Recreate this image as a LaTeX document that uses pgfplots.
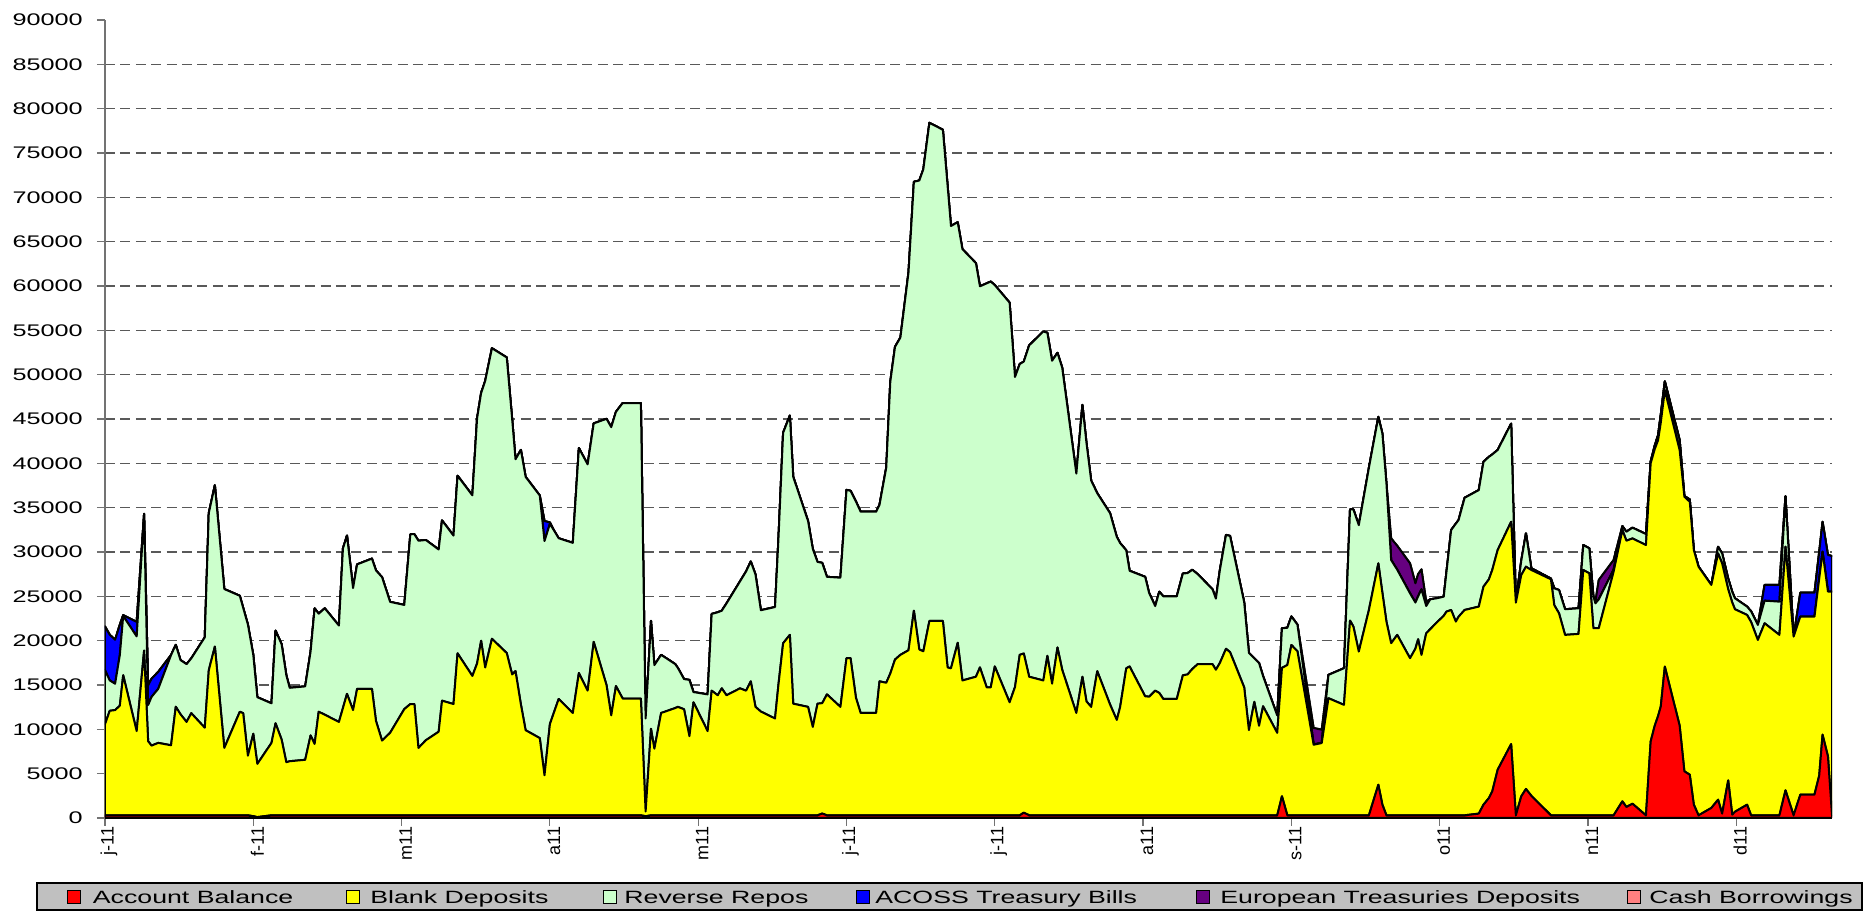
\documentclass[border=0pt]{standalone}
\usepackage{fontspec}
\setmainfont{Liberation Sans}
\usepackage{pgfplots}
\pgfplotsset{compat=1.18}
\usepackage{pgfplotstable}
\usetikzlibrary{calc}
\definecolor{accred}{RGB}{255,0,0}
\definecolor{blankyel}{RGB}{255,255,0}
\definecolor{rrgreen}{RGB}{204,255,204}
\definecolor{acossblue}{RGB}{0,0,255}
\definecolor{eurpurple}{RGB}{102,0,128}
\definecolor{cashpink}{RGB}{255,128,128}
\definecolor{legendgray}{RGB}{192,192,192}
\newcommand{\legfont}{\fontsize{8.9}{10}\selectfont}
\newcommand{\legtext}[1]{\scalebox{1.5}[1]{\legfont #1}}

\pgfplotstableread{
x acc blank rr acoss eur cash
0.0 300 10270 6100 4930 0 0
0.7 300 11790 3430 5150 0 0
1.5 300 11870 2970 4960 0 0
2.2 300 12360 5720 3420 0 0
2.7 300 15800 6680 100 0 0
4.7 300 9500 10680 1640 0 0
5.8 300 18580 15420 0 0 0
6.4 300 8360 4080 2210 0 0
6.9 300 7860 5490 2050 0 0
7.9 300 8170 6100 1910 0 0
9.8 300 7900 10180 0 0 0
10.5 300 12250 6980 0 0 0
11.2 300 11400 6110 0 0 0
12.1 300 10530 6520 0 0 0
12.8 300 11520 6180 0 0 0
14.8 300 9880 10190 0 0 0
15.4 300 16370 17730 0 0 0
16.3 300 19040 18190 0 0 0
17.7 300 7600 17920 0 0 0
20.0 300 11680 13080 0 0 0
20.5 300 11520 11880 0 0 0
21.2 300 6720 14800 0 0 0
22.0 200 9300 8880 0 0 0
22.6 100 6000 7520 0 0 0
24.7 300 8170 4460 0 0 0
25.3 300 10380 10450 0 0 0
26.2 300 8550 10750 0 0 0
26.9 300 5990 9810 0 0 0
27.4 300 6100 8280 0 0 0
29.7 300 6260 8280 0 0 0
30.5 300 9010 9460 0 0 0
31.1 300 8050 15300 0 0 0
31.7 300 11680 11060 0 0 0
32.6 300 11350 12000 0 0 0
34.7 300 10530 10870 0 0 0
35.3 300 12100 18000 0 0 0
35.9 300 13700 17850 0 0 0
36.8 300 11870 13760 0 0 0
37.4 300 14270 14030 0 0 0
39.6 300 14270 14680 0 0 0
40.2 300 10650 16970 0 0 0
41.1 300 8430 18430 0 0 0
42.3 300 9310 14760 0 0 0
44.4 300 11980 11750 0 0 0
45.3 300 12550 19150 0 0 0
45.9 300 12550 19150 0 0 0
46.5 300 7600 23370 0 0 0
47.6 300 8470 22580 0 0 0
49.5 300 9430 20550 0 0 0
50.0 300 12930 20330 0 0 0
51.7 300 12550 19000 0 0 0
52.3 300 18270 20030 0 0 0
54.5 300 15720 20370 0 0 0
55.2 300 17130 27650 0 0 0
55.8 300 19690 27950 0 0 0
56.4 300 16670 32310 0 0 0
57.4 300 19910 32770 0 0 0
59.6 300 18300 33340 0 0 0
60.4 300 15890 28810 0 0 0
60.9 300 16260 23900 0 0 0
61.7 300 12500 28710 0 0 0
62.4 300 9600 28570 0 0 0
64.5 300 8710 27360 0 0 0
65.2 300 4520 26420 2250 0 0
66.0 300 10290 22580 160 0 0
66.6 300 11600 20540 0 0 0
67.3 300 13120 18130 0 0 0
69.4 300 11540 19190 0 0 0
70.3 300 16050 25370 0 0 0
71.6 300 14060 25520 0 0 0
72.5 300 19560 24640 0 0 0
74.4 300 14690 30030 0 0 0
75.1 300 11280 32500 0 0 0
75.8 300 14580 30930 0 0 0
76.8 300 13170 33330 0 0 0
79.5 300 13170 33330 0 0 0
80.2 200 530 10490 0 0 0
81.0 300 9760 12160 0 0 0
81.5 300 7510 9430 0 0 0
82.5 300 11540 6560 0 0 0
84.6 300 12100 4950 0 0 0
85.0 300 12230 4370 0 0 0
85.9 300 11960 3410 0 0 0
86.7 300 8920 6350 0 0 0
87.3 300 12750 1150 0 0 0
89.4 300 9500 4140 0 0 0
90.0 300 14060 8650 0 0 0
90.9 300 13540 9360 0 0 0
91.5 300 14320 8760 0 0 0
92.2 300 13540 10360 0 0 0
94.2 300 14320 12060 0 0 0
95.1 300 14060 13440 0 0 0
95.8 300 15110 13520 0 0 0
96.5 300 12230 14930 0 0 0
97.3 300 11700 11430 0 0 0
99.4 300 10920 12570 0 0 0
99.9 300 14700 16390 0 0 0
100.6 300 19410 23740 0 0 0
101.6 300 20350 24740 0 0 0
102.1 300 12590 25580 0 0 0
104.3 300 12230 20960 0 0 0
105.0 300 9970 20080 0 0 0
105.7 300 12590 15990 0 0 0
106.4 500 12450 15820 0 0 0
107.1 300 13640 13260 0 0 0
109.1 300 12230 14570 0 0 0
110.0 300 17730 18970 0 0 0
110.6 300 17730 18870 0 0 0
111.4 300 13270 22130 0 0 0
112.1 300 11540 22700 0 0 0
114.4 300 11540 22700 0 0 0
114.9 300 15110 19910 0 0 0
115.9 300 14950 24270 0 0 0
116.5 300 16000 32910 0 0 0
117.2 300 17570 35270 0 0 0
118.0 300 18100 35790 0 0 0
119.2 300 18620 42610 0 0 0
120.0 300 23080 48370 0 0 0
120.8 300 18700 52900 0 0 0
121.4 300 18500 54360 0 0 0
122.3 300 21920 56180 0 0 0
124.3 300 21920 55400 0 0 0
125.0 300 16680 54320 0 0 0
125.5 300 16580 49890 0 0 0
126.5 300 19460 47430 0 0 0
127.2 300 15210 48640 0 0 0
129.2 300 15630 46650 0 0 0
129.8 300 16680 42980 0 0 0
130.8 300 14430 45570 0 0 0
131.4 300 14430 45770 0 0 0
132.0 300 16790 43010 0 0 0
134.2 300 12750 45070 0 0 0
135.0 300 14480 34960 0 0 0
135.7 300 18100 32800 0 0 0
136.3 600 17950 32920 0 0 0
137.1 300 15630 37370 0 0 0
139.2 300 15210 39360 0 0 0
139.8 300 17990 36430 0 0 0
140.5 300 14850 36420 0 0 0
141.3 300 18930 33230 0 0 0
142.0 300 16420 34070 0 0 0
144.1 300 11540 27000 0 0 0
145.0 300 15630 30660 0 0 0
145.6 300 12850 29150 0 0 0
146.3 300 12230 25520 0 0 0
147.2 300 16260 20070 0 0 0
149.1 300 12500 21580 0 0 0
150.1 300 10760 20640 0 0 0
150.6 300 12230 18470 0 0 0
151.5 300 16580 13310 0 0 0
152.0 300 16790 10790 0 0 0
154.3 300 13430 13470 0 0 0
154.9 300 13380 11690 0 0 0
155.8 300 14060 9540 0 0 0
156.4 300 13800 11420 0 0 0
157.0 300 13120 11580 0 0 0
159.0 300 13120 11580 0 0 0
159.9 300 15790 11480 0 0 0
160.6 300 15890 11430 0 0 0
161.3 300 16500 11190 0 0 0
162.1 300 17050 10150 0 0 0
164.3 300 17050 8440 0 0 0
164.8 300 16420 8020 0 0 0
165.4 300 17200 10500 0 0 0
166.3 300 18780 12840 0 0 0
166.9 300 18410 13100 0 0 0
169.0 300 14430 9590 0 0 0
169.7 300 9610 8710 0 0 0
170.5 300 12800 4900 0 0 0
171.2 300 10100 7080 0 0 0
171.8 300 12300 3400 0 0 0
173.9 300 9300 1960 0 0 0
174.6 2450 14480 4470 0 0 0
175.4 300 16950 4200 0 0 0
176.0 300 19210 3220 0 0 0
176.9 300 18500 3000 0 0 0
179.3 300 7960 40 0 1850 0
180.5 300 8150 10 0 1500 0
181.5 300 13210 2630 0 0 0
183.8 300 12460 4130 0 0 0
184.7 300 21960 12540 0 0 0
185.2 300 21290 13210 0 0 0
186.0 300 18470 14260 0 0 0
187.5 300 23160 16040 0 0 0
188.9 3750 24970 16520 0 0 0
189.5 1500 23900 17960 0 0 0
190.1 300 21850 15580 0 0 0
190.8 300 19410 9380 0 2440 0
191.7 300 20350 7350 0 2700 0
193.6 300 17720 7320 0 3380 0
194.4 300 18800 5200 0 2170 0
194.8 300 19860 4840 0 2500 0
195.3 300 18090 7400 0 2250 0
196.0 300 20530 3080 0 490 0
196.6 300 21000 3360 0 0 0
197.7 300 21850 2650 0 0 0
198.6 300 22500 2160 0 0 0
199.0 300 22970 4430 0 0 0
199.7 300 23160 9010 0 0 0
200.4 300 21850 11050 0 0 0
200.8 300 22400 10900 0 0 0
201.7 300 23160 12650 0 0 0
203.8 490 23350 13140 0 0 0
204.5 1500 24590 14080 0 0 0
205.3 2250 24670 13810 0 0 0
205.8 3000 24970 13030 0 0 0
206.6 5440 24780 11280 0 0 0
208.6 8330 25080 11070 0 0 0
209.3 300 23990 110 0 0 0
210.1 2440 24960 1600 0 0 0
210.8 3270 25070 3760 0 0 0
211.6 2500 25470 190 0 0 0
214.5 300 26620 80 0 0 0
215.0 300 23700 1900 0 0 0
215.7 300 22790 2620 0 0 0
216.6 300 20350 2890 0 0 0
218.6 300 20460 2890 0 0 0
219.3 300 27670 2810 0 0 0
220.2 300 27290 2820 0 0 0
220.8 300 21100 3600 0 0 0
221.1 300 21100 2810 0 190 0
221.6 300 21100 3260 0 2180 0
223.8 300 27480 220 0 1090 0
225.1 1880 30590 450 0 0 0
225.7 1240 30030 1010 0 0 0
226.6 1610 29920 1210 0 0 0
228.6 300 30480 1240 0 0 0
229.3 8630 31370 200 0 0 0
229.9 10400 31200 400 0 0 0
230.4 11500 31110 560 0 0 0
230.8 12580 32020 900 0 0 0
231.4 17080 31160 1010 0 0 0
233.6 10400 31080 1130 0 0 0
234.3 5260 30970 70 0 0 0
235.1 4880 30780 270 0 0 0
235.7 1500 28720 0 0 0 0
236.4 300 28040 0 0 0 0
238.3 1130 25150 0 0 0 0
239.3 2060 27780 750 0 0 0
239.9 490 28230 1120 0 0 0
240.8 4240 21560 1200 0 0 0
241.4 375 23925 1200 0 0 0
241.8 700 22840 1240 0 0 0
243.6 1500 21400 940 0 0 0
244.2 300 21800 1200 0 0 0
245.2 300 19780 1690 0 0 0
246.2 300 21660 2550 1770 0 0
248.4 300 20350 3750 1880 0 0
249.3 3120 27470 5710 0 0 0
250.5 300 20160 0 0 0 0
251.5 2630 20080 0 2700 0 0
253.6 2630 20080 0 2700 0 0
254.3 4770 22230 0 3000 0 0
254.8 9390 20640 0 3380 0 0
255.6 6950 18580 0 4130 0 0
256.2 300 25230 0 4010 0 0
}\data

\begin{document}
\begin{tikzpicture}
\begin{axis}[
  name=ax,
  scale only axis,
  width=863.5pt, height=399pt,
  xmin=0, xmax=256.2, ymin=0, ymax=90000,
  stack plots=y,
  axis x line*=bottom, axis y line*=left,
  x axis line style={black,line width=1pt,-},
  y axis line style={black!55,line width=0.6pt,-},
  xtick={0,22,...,242},
  xticklabels={j-11,f-11,m11,a11,m11,j-11,j-11,a11,s-11,o11,n11,d11},
  xticklabel style={rotate=90,anchor=east,inner sep=0pt,yshift=-2pt,font=\fontsize{9}{10}\selectfont},
  ytick={0,5000,...,85000},
  extra y ticks={90000},
  extra y tick labels={\scalebox{1.5}[1]{90000}},
  extra y tick style={grid=none},
  scaled y ticks=false,
  yticklabel={\scalebox{1.5}[1]{\pgfmathprintnumber[fixed,precision=0,1000 sep={},assume math mode=true]{\tick}}},
  yticklabel style={anchor=east,inner sep=0pt,xshift=-7pt,font=\fontsize{8.4}{10}\selectfont},
  ymajorgrids,
  grid style={dash pattern=on 5pt off 2.7pt, black!65, line width=0.6pt},
  tick align=outside,
  major tick length=4pt,
  tick style={black!55, line width=0.6pt},
  every axis plot/.append style={draw=black, line width=1pt, line join=round, mark=none},
]
\addplot[fill=accred] table[x=x,y=acc]{\data} \closedcycle;
\addplot[fill=blankyel] table[x=x,y=blank]{\data} \closedcycle;
\addplot[fill=rrgreen] table[x=x,y=rr]{\data} \closedcycle;
\addplot[fill=acossblue] table[x=x,y=acoss]{\data} \closedcycle;
\addplot[fill=eurpurple] table[x=x,y=eur]{\data} \closedcycle;
\addplot[fill=cashpink] table[x=x,y=cash]{\data} \closedcycle;
\end{axis}
\begin{scope}[shift={(ax.south west)}]
\draw[line width=0.6pt, fill=legendgray] (-34pt,-32.5pt) rectangle (878.5pt,-46pt);
\draw[fill=accred,line width=0.5pt] (-18.75pt,-42.75pt) rectangle (-12.25pt,-36.25pt);
\node[anchor=base west,inner sep=0pt] at (-6.25pt,-42.7pt) {\legtext{Account Balance}};
\draw[fill=blankyel,line width=0.5pt] (120.75pt,-42.75pt) rectangle (127.25pt,-36.25pt);
\node[anchor=base west,inner sep=0pt] at (132.5pt,-42.7pt) {\legtext{Blank Deposits}};
\draw[fill=rrgreen,line width=0.5pt] (249.25pt,-42.75pt) rectangle (255.75pt,-36.25pt);
\node[anchor=base west,inner sep=0pt] at (259.5pt,-42.7pt) {\legtext{Reverse Repos}};
\draw[fill=acossblue,line width=0.5pt] (375.75pt,-42.75pt) rectangle (382.25pt,-36.25pt);
\node[anchor=base west,inner sep=0pt] at (385pt,-42.7pt) {\legtext{ACOSS Treasury Bills}};
\draw[fill=eurpurple,line width=0.5pt] (545.75pt,-42.75pt) rectangle (552.25pt,-36.25pt);
\node[anchor=base west,inner sep=0pt] at (557.5pt,-42.7pt) {\legtext{European Treasuries Deposits}};
\draw[fill=cashpink,line width=0.5pt] (761.25pt,-42.75pt) rectangle (767.75pt,-36.25pt);
\node[anchor=base west,inner sep=0pt] at (772pt,-42.7pt) {\legtext{Cash Borrowings}};
\end{scope}
\pgfresetboundingbox
\path[use as bounding box] ($(ax.south west)+(-52.5pt,-46.5pt)$) rectangle ($(ax.north east)+(20pt,10pt)$);
\end{tikzpicture}
\end{document}
